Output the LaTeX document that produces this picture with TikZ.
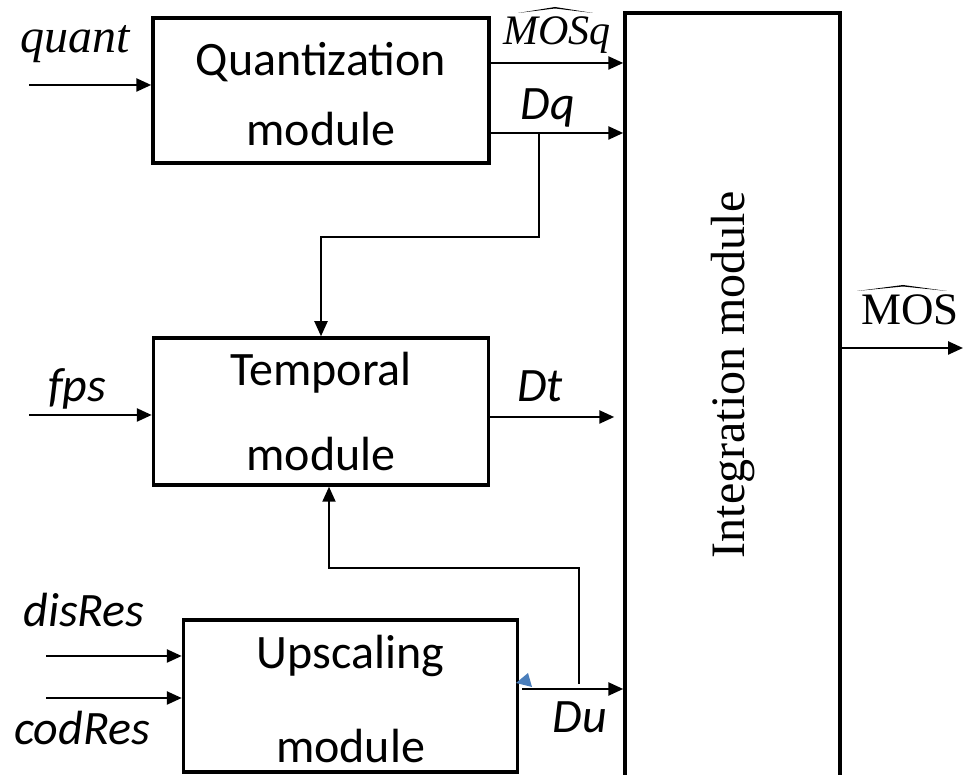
\documentclass[tikz,border=0pt]{standalone}
\usepackage{fontspec}
\setmainfont{Carlito}
\newfontfamily\timesfont{Liberation Serif}
\usetikzlibrary{arrows.meta}
\definecolor{tipblue}{RGB}{74,126,187}
\tikzstyle{block} =
        [
                rectangle,
                draw,
                line width = 3.5pt,
                align = center,
                font = \fontsize{48}{58}\selectfont,
                inner sep = 0pt
        ]
\tikzstyle{line} =
        [
                draw,
                line width = 2.5pt,
                -{Triangle[length = 15pt, width = 13pt]}
        ]
\tikzstyle{feed} =
        [
                draw,
                line width = 2pt,
                -{Triangle[length = 15pt, width = 13pt]}
        ]
\tikzstyle{sig} =
        [
                anchor = base,
                inner sep = 0pt,
                font = \fontsize{48}{58}\selectfont\itshape
        ]

\begin{document}
\begin{tikzpicture}[x = 1pt, y = 1pt]
        \clip (0,0) rectangle (965,775);
        \node [block, minimum width = 336pt, minimum height = 145pt] (quant) at (321,684.5) {\rule{0pt}{41pt}Quantization\\[12pt]module};
        \node [block, minimum width = 335pt, minimum height = 147pt, below of = quant, node distance = 321pt] (temporal) {Temporal\\[27pt]module};
        \node [block, minimum width = 334pt, minimum height = 152pt, below of = temporal, node distance = 284.5pt, xshift = 29.5pt] (upscaling) {\rule{0pt}{39pt}Upscaling\\[36pt]module};
        \node [block, minimum width = 215pt, minimum height = 792pt] (integ) at (732.5,366) {};
        \node [rotate = 90, font = \fontsize{48}{58}\selectfont\timesfont] (integlabel) at (733,400) {Integration module};

        \coordinate (qin) at (29,690);
        \coordinate (mosqout) at (489,712);
        \coordinate (dqout) at (489,642);
        \coordinate (dqtap) at (539,642);
        \coordinate (fin) at (29,360);
        \coordinate (dtout) at (488,358);
        \coordinate (din) at (46,119);
        \coordinate (cin) at (46,77);
        \coordinate (duout) at (522,86);
        \coordinate (dutap) at (579,91);
        \coordinate (mosout) at (integ.east |- 0,427);
        \coordinate (mosend) at (963,427);

        \node [sig, font = \fontsize{48}{58}\selectfont\timesfont\itshape] (quantlabel) at (75,722) {quant};
        \node [sig, font = \fontsize{42}{50}\selectfont\timesfont\itshape] (mosqlabel) at (557,730) {MOSq};
        \node [sig] (dqlabel) at (548,655) {Dq};
        \node [sig] (fpslabel) at (77,373) {fps};
        \node [sig] (dtlabel) at (540,373) {Dt};
        \node [sig] (dislabel) at (84,148) {disRes};
        \node [sig] (codlabel) at (82,30) {codRes};
        \node [sig] (dulabel) at (580,42) {Du};
        \node [sig, font = \fontsize{45}{54}\selectfont\timesfont] (moslabel) at (910,450) {MOS};

        % hats
        \fill ([xshift = 15pt, yshift = 4pt]mosqlabel.north west) -- ([xshift = -2pt, yshift = 10pt]mosqlabel.north) -- ([xshift = -18pt, yshift = 4pt]mosqlabel.north east) -- ([xshift = -2pt, yshift = 8.5pt]mosqlabel.north) -- cycle;
        \fill ([xshift = -4pt, yshift = 4pt]moslabel.north west) -- ([xshift = -7pt, yshift = 10pt]moslabel.north) -- ([xshift = -12pt, yshift = 4pt]moslabel.north east) -- ([xshift = -7pt, yshift = 8.5pt]moslabel.north) -- cycle;

        \path [line] (qin) -- (qin -| quant.west);
        \path [line] (mosqout) -- (mosqout -| integ.west);
        \path [line] (dqout) -- (dqout -| integ.west);
        \path [feed] (dqtap) -- ++(0,-104) -| (temporal.north);
        \path [line] (fin) -- (fin -| temporal.west);
        \path [line, shorten >= 9pt] (dtout) -- (dtout -| integ.west);
        \path [feed] (dutap) -- ++(0,116) -| ([xshift = 8pt]temporal.south);
        \path [line] (din) -- (din -| upscaling.west);
        \path [line] (cin) -- (cin -| upscaling.west);
        \path [line] (duout) -- (duout -| integ.west);
        \path [line] (mosout) -- (mosend);

        \fill [tipblue] (516,92) -- (528,102) -- (532,88) -- cycle;
\end{tikzpicture}
\end{document}
